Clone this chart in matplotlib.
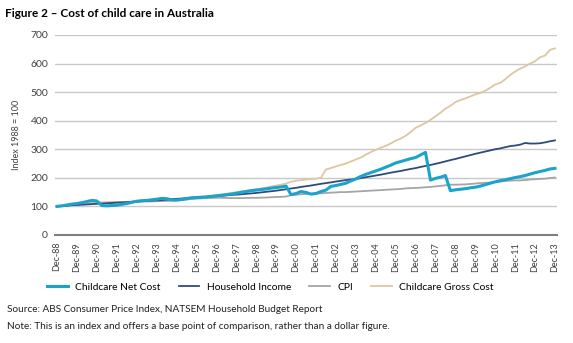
import matplotlib.pyplot as plt
import numpy as np

plt.rcParams['font.family'] = ['Lato', 'DejaVu Sans']

# Quarterly index values, Dec-88 .. Dec-13 (1988 = 100)
net_cost = [
    100,
    102, 105, 108, 110,
    113, 117, 121, 119,
    103, 102, 103, 104,
    107, 110, 114, 118,
    120, 121, 123, 125,
    128, 127, 123, 122,
    124, 127, 130, 131,
    132, 133, 135, 137,
    139, 141, 143, 146,
    149, 152, 155, 157,
    159, 161, 164, 166,
    168, 171, 141, 145,
    152, 149, 143, 145,
    152, 157, 170, 173,
    177, 181, 189, 196,
    205, 212, 218, 224,
    230, 237, 244, 252,
    257, 262, 267, 271,
    280, 289, 192, 198,
    202, 208, 155, 158,
    160, 162, 165, 167,
    171, 176, 181, 186,
    190, 193, 197, 201,
    204, 208, 213, 218,
    222, 226, 231, 233,
]
household_income = [
    100,
    101, 102.5, 104, 105,
    106, 107, 108, 109,
    110, 111, 112, 113,
    114, 115, 116, 117,
    118, 119, 120, 121,
    122, 123.5, 125, 126,
    127, 128.5, 130, 131,
    132, 133.5, 135, 136,
    137, 138.5, 140, 141,
    142.5, 144, 145.5, 147,
    149, 151, 153, 155,
    157.5, 160, 162.5, 165,
    168, 170.5, 173, 176,
    179, 181.5, 184, 187,
    189.5, 192, 194, 196,
    199, 202, 205, 208,
    211, 214.5, 218, 221,
    224, 227.5, 231, 234,
    238, 241.5, 245, 249,
    253, 257.5, 262, 266,
    270.5, 275, 279.5, 284,
    288, 292, 296, 300,
    303, 307, 311, 313,
    316, 322, 320, 320,
    321, 324, 328, 331,
]
cpi = [
    100,
    101.5, 103.5, 105.5, 107,
    108.5, 110, 111.5, 113,
    113.5, 114, 114.5, 115,
    115, 115.5, 115.5, 116,
    116.5, 117, 117.5, 118,
    118.5, 119, 120, 121,
    122.5, 124, 125.5, 127,
    128, 129, 129.5, 130,
    130, 129.5, 129, 129,
    129, 129.5, 130, 130,
    130.5, 131, 132, 133,
    133.5, 134.5, 139.5, 141,
    142.5, 143.5, 144, 145,
    146, 147, 148, 149,
    150, 150, 151, 152,
    153, 154, 155, 156,
    157, 158, 159, 160,
    161, 163, 164, 164.5,
    165.5, 167, 168, 170,
    171.5, 174, 176, 176,
    176.5, 177, 178.5, 180,
    181.5, 182.5, 183.5, 185,
    187, 189, 190, 191,
    191, 192, 194, 195,
    196, 197, 199.5, 201,
]
gross_cost = [
    100,
    101.5, 103, 104.5, 106,
    107.5, 109, 110.5, 112,
    112.5, 113, 113.5, 114,
    115, 116, 117, 118,
    119, 120, 121, 122,
    123, 124, 125.5, 127,
    128.5, 130, 131.5, 133,
    134, 135.5, 137, 138,
    141, 144, 147, 150,
    152.5, 155, 157.5, 160,
    163, 166, 169.5, 173,
    176, 180, 186, 190,
    192, 194, 196, 197,
    200, 229, 234, 240,
    245, 250, 257, 264,
    271, 281, 290, 298,
    305, 312, 320, 330,
    337, 347, 360, 375,
    383, 392, 403, 415,
    428, 442, 452, 465,
    472, 478, 485, 492,
    497, 505, 515, 527,
    532, 545, 560, 572,
    582, 590, 600, 608,
    622, 628, 648, 653,
]
tick_labels = [f"Dec-{y % 100:02d}" for y in range(1988, 2014)]

x = np.arange(len(net_cost))

fig = plt.figure(figsize=(5.73, 3.43), dpi=100)
ax = fig.add_axes([0.096, 0.315, 0.876, 0.583])

l_cpi, = ax.plot(x, cpi, color='#a5a5a5', lw=1.3, label='CPI')
l_gross, = ax.plot(x, gross_cost, color='#dcc8a0', lw=1.3, label='Childcare Gross Cost')
l_inc, = ax.plot(x, household_income, color='#2f4b7c', lw=1.3, label='Household Income')
l_net, = ax.plot(x, net_cost, color='#1ba3cc', lw=2.2, label='Childcare Net Cost')

ax.set_xlim(-0.4, 100.4)
ax.set_ylim(0, 700)
ax.set_yticks(range(0, 701, 100))
ax.set_xticks(x[::4])
ax.set_xticklabels(tick_labels, rotation=90)
ax.tick_params(axis='both', length=0, colors='#404040')
ax.tick_params(axis='x', pad=5, labelsize=6.5)
ax.tick_params(axis='y', pad=5, labelsize=7.5)
ax.yaxis.grid(True, color='#c8c8c8', lw=1)
ax.set_axisbelow(True)
for s in ['top', 'right', 'left']:
    ax.spines[s].set_visible(False)
ax.spines['bottom'].set_color('#7f7f7f')
ax.spines['bottom'].set_linewidth(1.5)
ax.set_ylabel('Index 1988 = 100', fontsize=6.5, color='#404040', labelpad=7)

fig.legend(handles=[l_net, l_inc, l_cpi, l_gross], loc='center', ncol=4,
           bbox_to_anchor=(0.472, 0.163), frameon=False, fontsize=7.4,
           handlelength=2.0, handletextpad=0.7, columnspacing=1.8)

fig.text(0.009, 0.962, 'Figure 2 \u2013 Cost of child care in Australia',
         fontsize=8.5, fontweight='bold', va='center')
fig.text(0.012, 0.097, 'Source: ABS Consumer Price Index, NATSEM Household Budget Report',
         fontsize=7.2, va='center', color='#222222')
fig.text(0.012, 0.047, 'Note: This is an index and offers a base point of comparison, rather than a dollar figure.',
         fontsize=7.2, va='center', color='#222222')

fig.savefig('out.png', dpi=100)
